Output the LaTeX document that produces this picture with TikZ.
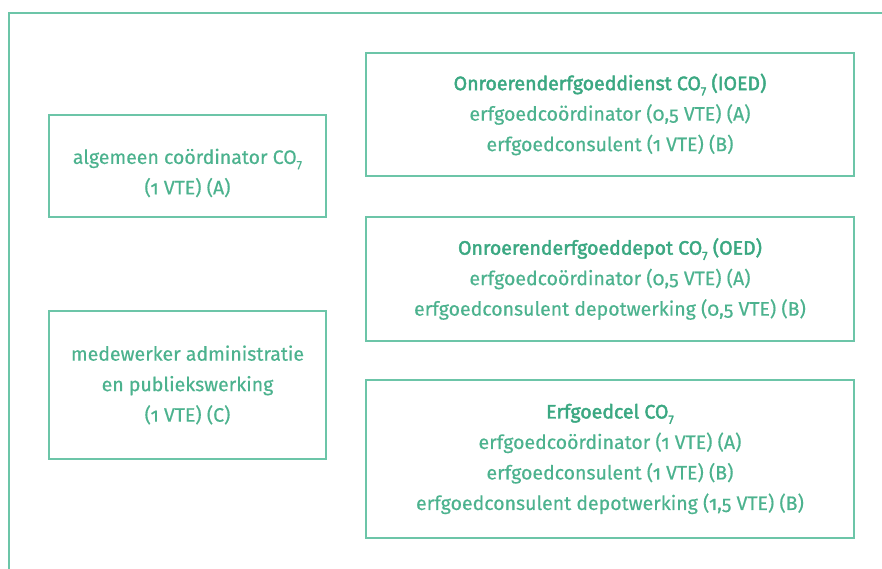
\documentclass[tikz,border=0pt]{standalone}
\usepackage{fontspec}
\setmainfont[Numbers=OldStyle,FakeBold=0.5]{Fira Sans}
\newfontfamily\medfont[Numbers=OldStyle,FakeBold=2.2]{Fira Sans}
\definecolor{linegreen}{HTML}{6CC5A8}
\definecolor{textgreen}{HTML}{4CB28E}
\definecolor{titlegreen}{HTML}{3BA882}
\newcommand{\cosub}{CO\raisebox{-4pt}{\fontsize{12}{12}\selectfont 7}}
\tikzset{
  frame/.style={draw=linegreen, line width=2pt},
  boxnode/.style={draw=linegreen, line width=1.8pt, rectangle, inner sep=0pt,
    align=center, text=textgreen, font=\fontsize{19.5}{30.5}\selectfont},
  txt/.style={align=center, text=textgreen, inner sep=0pt, font=\fontsize{19.5}{30.5}\selectfont}
}
\begin{document}
\begin{tikzpicture}[x=1pt,y=1pt]
\useasboundingbox (0,0) rectangle (882,569);
\clip (0,0) rectangle (882,569);
\coordinate (fbl) at (9,-10);
\coordinate (ftl) at (9,556);
\coordinate (ftr) at (895,556);
\draw[frame] (fbl) -- (ftl) -- (ftr);
\node[boxnode, minimum width=277pt, minimum height=102pt] (alg) at (187.5,403) {};
\node[txt] (algtext) at ([yshift=-7pt]alg.center) {algemeen coördinator \cosub\\(1 VTE) (A)};
\node[boxnode, minimum width=277pt, minimum height=148pt] (med) at (187.5,184)
  {medewerker administratie\\en publiekswerking\\(1 VTE) (C)};
\node[boxnode, minimum width=488pt, minimum height=123pt] (ioed) at (610,454.5)
  {{\color{titlegreen}\medfont Onroerenderfgoeddienst \cosub\ (IOED)}\\erfgoedcoördinator (0,5 VTE) (A)\\erfgoedconsulent (1 VTE) (B)};
\node[boxnode, minimum width=488pt, minimum height=124pt] (oed) at (610,290)
  {{\color{titlegreen}\medfont Onroerenderfgoeddepot \cosub\ (OED)}\\erfgoedcoördinator (0,5 VTE) (A)\\erfgoedconsulent depotwerking (0,5 VTE) (B)};
\node[boxnode, minimum width=488pt, minimum height=158pt] (cel) at (610,110)
  {{\color{titlegreen}\medfont Erfgoedcel \cosub}\\erfgoedcoördinator (1 VTE) (A)\\erfgoedconsulent (1 VTE) (B)\\erfgoedconsulent depotwerking (1,5 VTE) (B)};
\end{tikzpicture}
\end{document}
